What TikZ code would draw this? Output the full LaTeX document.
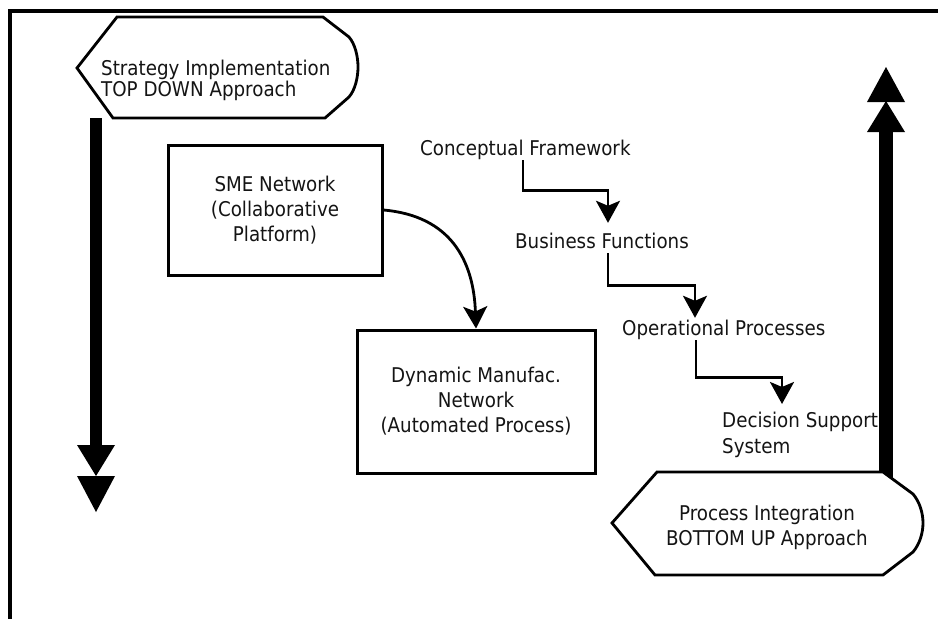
\documentclass[tikz,border=0pt]{standalone}
\usepackage{fontspec}
\setmainfont{DejaVu Sans}[FakeStretch=0.9]
\usetikzlibrary{arrows.meta}
\begin{document}
\begin{tikzpicture}[x=1pt,y=-1pt,
  every node/.style={font=\fontsize{20.3}{25}\selectfont, text=black!92},
  lbl/.style={inner sep=0pt, text height=15pt, text depth=5pt},
  boxnode/.style={draw, line width=3pt, inner sep=0pt, align=center},
  sign/.style={draw, line width=2.8pt, fill=white, line join=miter},
  connector/.style={line width=2.8pt, -{Stealth[length=22pt,width=24pt,inset=5pt]}},
  frame/.style={line width=3.5pt},
  thickbar/.style={fill=black}
]
\useasboundingbox (0,0) rectangle (938,619);

% page frame (left and top edges)
\draw[frame] (10,621) -- (10,11) -- (940,11);

% top-down thick arrow
\fill[thickbar] (90,118) rectangle (102,448);
\fill[thickbar] (77,445) -- (115,445) -- (96,476) -- cycle;
\fill[thickbar] (77,476) -- (115,476) -- (96,512) -- cycle;

% strategy sign
\draw[sign] (113,118) -- (77,68) -- (117,17) -- (323,17) -- (349,37)
  .. controls (355,44) and (358,56) .. (358,67)
  .. controls (358,78) and (355,90) .. (349,97) -- (325,118) -- cycle;
\node[anchor=west, align=left, inner sep=0pt,
      font=\fontsize{20.3}{21}\selectfont] (topdown) at (101,80)
  {Strategy Implementation\\TOP DOWN Approach};

% boxes
\node[boxnode, minimum width=214pt, minimum height=130pt] (sme) at (275,210)
  {SME Network\\(Collaborative\\Platform)};
\node[boxnode, minimum width=238pt, minimum height=143pt] (dyn) at (476,401.5)
  {Dynamic Manufac.\\Network\\(Automated Process)};
\draw[connector] (sme.east) to[out=-5, in=92, looseness=1.15] (dyn.north);

% layered framework
\node[lbl, anchor=base west] (cf) at (420,155) {Conceptual Framework};
\node[lbl, anchor=base west] (bf) at (515,248) {Business Functions};
\node[lbl, anchor=base west] (op) at (622,335) {Operational Processes};
\node[anchor=west, align=left, inner sep=0pt,
      font=\fontsize{20.3}{26}\selectfont] (ds) at (722,435)
  {Decision Support\\System};

\draw[connector] ([xshift=103pt]cf.south west) -- ++(0,30)
  -| ([xshift=93pt,yshift=10pt]bf.north west);
\draw[connector] ([xshift=93pt]bf.south west) -- ++(0,32)
  -| ([xshift=73pt,yshift=2pt]op.north west);
\draw[connector] ([xshift=74pt]op.south west) -- ++(0,37)
  -| ([xshift=60pt,yshift=8pt]ds.north west);

% bottom-up thick arrow
\fill[thickbar] (879,130) rectangle (893,482);
\fill[thickbar] (867,102) -- (905,102) -- (886,67) -- cycle;
\fill[thickbar] (867,132) -- (905,132) -- (886,101) -- cycle;

% process integration sign
\draw[sign] (655,575) -- (612,523) -- (657,472) -- (883,472) -- (913,494)
  .. controls (919,501) and (923,512) .. (923,523)
  .. controls (923,534) and (919,545) .. (913,552) -- (883,575) -- cycle;
\node[align=center, inner sep=0pt] (bottomup) at (767,527)
  {Process Integration\\BOTTOM UP Approach};
\end{tikzpicture}
\end{document}
